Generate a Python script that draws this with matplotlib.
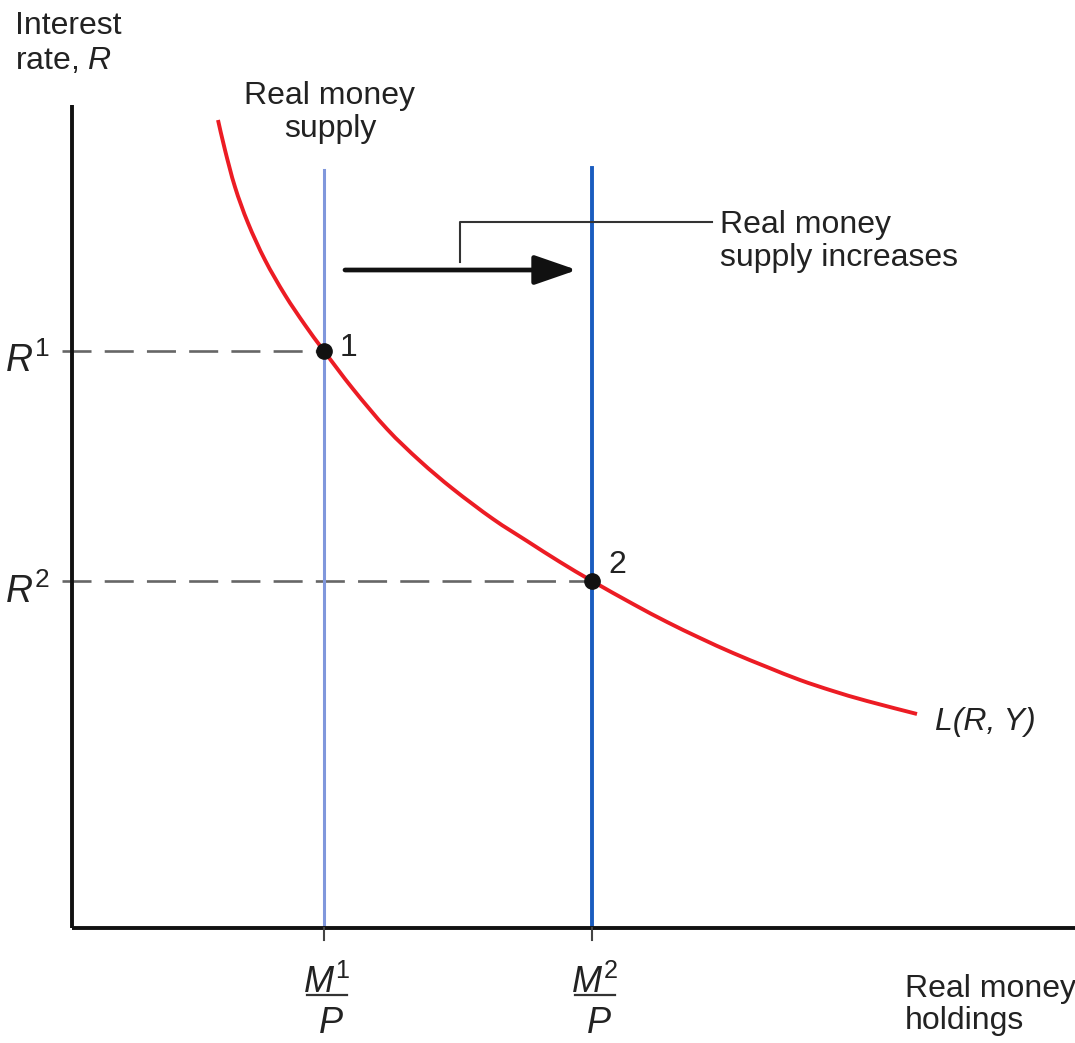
import matplotlib
matplotlib.use("Agg")
import matplotlib.pyplot as plt
from matplotlib.path import Path
from matplotlib.patches import PathPatch

plt.rcParams['font.family'] = ['Liberation Sans', 'DejaVu Sans']
plt.rcParams['mathtext.fontset'] = 'custom'
plt.rcParams['mathtext.rm'] = 'Liberation Sans'
plt.rcParams['mathtext.it'] = 'Liberation Sans:italic'
plt.rcParams['mathtext.bf'] = 'Liberation Sans:bold'

# ---- data (schematic units, origin at axis corner) ----
money_supply = {'M1': 252, 'M2': 520}
rates = {'R1': 577, 'R2': 347}
curve_x = [146, 153, 163, 176, 193, 213, 233, 252, 281, 315, 348, 381, 421, 455,
           488, 520, 561, 595, 628, 661, 695, 728, 761, 795, 845]
curve_y = [808, 778, 741, 705, 668, 633, 603, 577, 539, 499, 467, 439, 409, 387,
           366, 347, 324, 306, 290, 275, 261, 248, 237, 227, 214]
supply_top = 758
x_max, y_max = 1003, 823

fig = plt.figure(figsize=(10.75, 10.43), dpi=100)
ax = fig.add_axes([0, 0, 1, 1])
ax.set_xlim(-72, 1003)
ax.set_ylim(-115, 928)
ax.axis('off')

M1, M2 = money_supply['M1'], money_supply['M2']
R1, R2 = rates['R1'], rates['R2']
TXT = '#222222'

# axes
ax.plot([0, 0], [0, y_max], color='#111111', lw=2.8, solid_capstyle='butt', zorder=5)
ax.plot([0, x_max], [0, 0], color='#111111', lw=2.8, solid_capstyle='butt', zorder=5)
for m in (M1, M2):
    ax.plot([m, m], [0, -12], color='#444444', lw=1.5, clip_on=False, zorder=5)

# dashed guide lines
dash_kw = dict(color='#666666', lw=1.9, dashes=(11, 5))
ax.plot([-10, M1], [R1, R1], **dash_kw, clip_on=False, zorder=2)
ax.plot([-10, M2], [R2, R2], **dash_kw, clip_on=False, zorder=2)

# supply lines
ax.plot([M1, M1], [0, supply_top], color='#8097dc', lw=2.2, zorder=3)
ax.plot([M2, M2], [0, supply_top + 2], color='#1a5cbf', lw=2.8, zorder=3)

# demand curve: smooth cubic path through the read points (Catmull-Rom -> Bezier)
pts = list(zip(curve_x, curve_y))
verts = [pts[0]]
codes = [Path.MOVETO]
n = len(pts)
for i in range(n - 1):
    p0 = pts[i - 1] if i > 0 else pts[i]
    p1 = pts[i]
    p2 = pts[i + 1]
    p3 = pts[i + 2] if i + 2 < n else pts[i + 1]
    c1 = (p1[0] + (p2[0] - p0[0]) / 6.0, p1[1] + (p2[1] - p0[1]) / 6.0)
    c2 = (p2[0] - (p3[0] - p1[0]) / 6.0, p2[1] - (p3[1] - p1[1]) / 6.0)
    verts += [c1, c2, p2]
    codes += [Path.CURVE4] * 3
ax.add_patch(PathPatch(Path(verts, codes), facecolor='none', edgecolor='#ec1c24',
                       lw=2.8, zorder=4, capstyle='butt'))

# equilibrium points
ax.plot([M1, M2], [R1, R2], 'o', color='#111111', ms=11, zorder=6)
ax.text(M1 + 16, R1 + 3, '1', fontsize=23, va='center', ha='left', color=TXT)
ax.text(M2 + 16, R2 + 16, '2', fontsize=23, va='center', ha='left', color=TXT)

# arrow
ax.annotate('', xy=(505, 658), xytext=(273, 658),
            arrowprops=dict(arrowstyle='-|>,head_length=1.3,head_width=0.45',
                            color='#111111', lw=3.4, mutation_scale=20,
                            shrinkA=0, shrinkB=0))
# leader line
ax.plot([388, 388, 640], [666, 706, 706], color='#333333', lw=1.5, zorder=3)

# texts
fs = 23
ax.text(-57, 917, 'Interest\nrate, $R$', fontsize=fs, ha='left', va='top',
        linespacing=1.2, color=TXT)
ax.text(258, 847, 'Real money\nsupply', fontsize=fs, ha='center', va='top',
        linespacing=1.15, color=TXT)
ax.text(648, 718, 'Real money\nsupply increases', fontsize=fs, ha='left', va='top',
        linespacing=1.15, color=TXT)
ax.text(863, 206, 'L(R, Y)', fontsize=fs, fontstyle='italic', ha='left',
        va='center', color=TXT)
ax.text(833, -46, 'Real money\nholdings', fontsize=fs, ha='left', va='top',
        linespacing=1.1, color=TXT)

# R labels
ax.text(-22, R1 - 21, '$R^{\\mathrm{1}}$', fontsize=27, ha='right', va='baseline', color=TXT)
ax.text(-22, R2 - 22, '$R^{\\mathrm{2}}$', fontsize=27, ha='right', va='baseline', color=TXT)

# M/P labels
for m, sup in ((M1, '1'), (M2, '2')):
    ax.text(m + 3, -65, '$M^{\\mathrm{%s}}$' % sup, fontsize=26, ha='center',
            va='baseline', color=TXT)
    ax.plot([m - 17, m + 23], [-67, -67], color='#333333', lw=1.6, clip_on=False)
    ax.text(m + 7, -105, '$P$', fontsize=26, ha='center', va='baseline', color=TXT)

fig.savefig('out.png', dpi=100, facecolor='white')
